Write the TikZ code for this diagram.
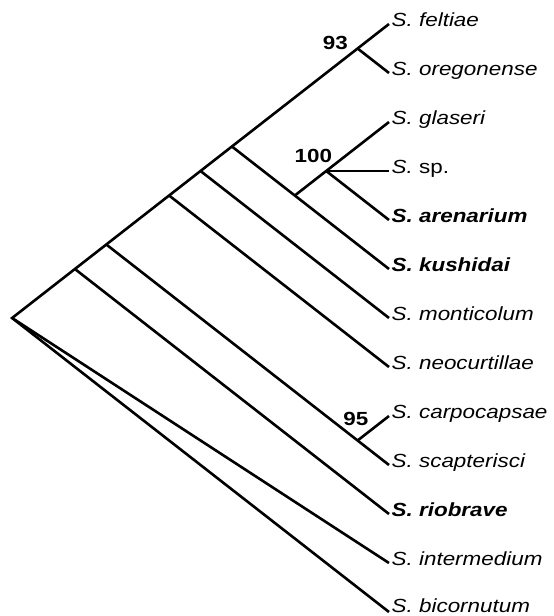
\documentclass[tikz,border=0pt]{standalone}
\usepackage{fontspec}
\newfontfamily\labfont[FakeStretch=1.18]{Liberation Sans}
\begin{document}
\begin{tikzpicture}[x=1pt,y=-1pt,
  branch/.style={line width=2.6pt,line cap=butt,line join=miter},
  taxon/.style={anchor=base west,inner sep=0pt,font=\labfont\fontsize{19}{22}\selectfont\itshape},
  taxonb/.style={taxon,font=\labfont\fontsize{19}{22}\selectfont\bfseries\itshape},
  support/.style={anchor=base east,inner sep=0pt,font=\labfont\fontsize{19}{22}\selectfont\bfseries}]
\useasboundingbox (0,0) rectangle (554,616);
% tips
\coordinate (t0) at (389,24);
\coordinate (t1) at (389,73);
\coordinate (t2) at (389,122);
\coordinate (t3) at (389,171);
\coordinate (t4) at (389,220);
\coordinate (t5) at (389,269);
\coordinate (t6) at (389,318);
\coordinate (t7) at (389,367);
\coordinate (t8) at (389,416);
\coordinate (t9) at (389,465);
\coordinate (t10) at (389,514);
\coordinate (t11) at (389,563);
\coordinate (t12) at (389,612);
% internal nodes
\coordinate (root) at (12.1,318);
\coordinate (nE) at (74.9,269);
\coordinate (nD) at (106.3,244.5);
\coordinate (nC) at (169.1,195.5);
\coordinate (nB) at (200.5,171);
\coordinate (nA) at (231.9,146.5);
\coordinate (n93) at (357.6,48.5);
\coordinate (nkush) at (294.8,195.5);
\coordinate (n100) at (326.2,171);
\coordinate (n95) at (357.6,440.5);
% branches
\draw[branch] (t0) -- (n93) -- (nA) -- (nB) -- (nC) -- (nD) -- (nE) -- (root) -- (t12);
\draw[branch] (root) -- (t11);
\draw[branch] (nE) -- (t10);
\draw[branch] (nD) -- (n95) -- (t9);
\draw[branch] (n95) -- (t8);
\draw[branch] (nC) -- (t7);
\draw[branch] (nB) -- (t6);
\draw[branch] (nA) -- (nkush) -- (t5);
\draw[branch] (nkush) -- (n100) -- (t2);
\draw[branch] (n100) -- (t3);
\draw[branch] (n100) -- (t4);
\draw[branch] (n93) -- (t1);
% labels
\node[taxon]  (l0)  at ([shift={(2.5,2)}]t0)  {S. feltiae};
\node[taxon]  (l1)  at ([shift={(2.5,2)}]t1)  {S. oregonense};
\node[taxon]  (l2)  at ([shift={(2.5,2)}]t2)  {S. glaseri};
\node[taxon]  (l3)  at ([shift={(2.5,2)}]t3)  {S. \upshape sp.};
\node[taxonb] (l4)  at ([shift={(2.5,2)}]t4)  {S. arenarium};
\node[taxonb] (l5)  at ([shift={(2.5,2)}]t5)  {S. kushidai};
\node[taxon]  (l6)  at ([shift={(2.5,2)}]t6)  {S. monticolum};
\node[taxon]  (l7)  at ([shift={(2.5,2)}]t7)  {S. neocurtillae};
\node[taxon]  (l8)  at ([shift={(2.5,2)}]t8)  {S. carpocapsae};
\node[taxon]  (l9)  at ([shift={(2.5,2)}]t9)  {S. scapterisci};
\node[taxonb] (l10) at ([shift={(2.5,2)}]t10) {S. riobrave};
\node[taxon]  (l11) at ([shift={(2.5,2)}]t11) {S. intermedium};
\node[taxon]  (l12) at ([shift={(2.5,0.8)}]t12) {S. bicornutum};
\node[support] (s93)  at ([shift={(-9.6,0.5)}]n93)  {93};
\node[support] (s100) at ([shift={(6,-9)}]n100) {100};
\node[support] (s95)  at ([shift={(11,-15)}]n95)  {95};
\end{tikzpicture}
\end{document}
